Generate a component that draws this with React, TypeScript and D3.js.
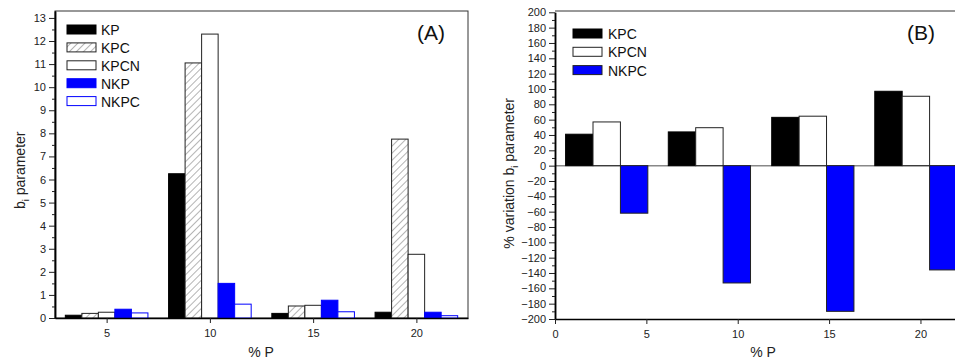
import { useEffect, useRef } from "react"
import * as d3 from "d3"

// Panel A: b_i parameter per % P
const phosphorus = [5, 10, 15, 20]
const seriesA = ["KP", "KPC", "KPCN", "NKP", "NKPC"]
const valuesKP = [0.12, 6.25, 0.2, 0.25]
const valuesKPC = [0.2, 11.05, 0.52, 7.75]
const valuesKPCN = [0.25, 12.3, 0.55, 2.76]
const valuesNKP = [0.38, 1.5, 0.77, 0.25]
const valuesNKPC = [0.22, 0.6, 0.27, 0.1]

// Panel B: % variation of b_i
const seriesB = ["KPC", "KPCN", "NKPC"]
const groupPosB = [2.83, 8.45, 14.11, 19.75]
const variationKPC = [41, 44, 63, 97]
const variationKPCN = [57, 49.5, 64.5, 90.5]
const variationNKPC = [-62, -153, -190, -136]

const xTicksB = [0, 5, 10, 15, 20]

const BLUE = "#0000ff"
const FONT = "Liberation Sans, Arial, sans-serif"

export default function App() {
  const svgRef = useRef<SVGSVGElement>(null)

  useEffect(() => {
    if (!svgRef.current) return
    const svg = d3.select(svgRef.current)
    svg.selectAll("*").remove()

    // hatch pattern for KPC
    const defs = svg.append("defs")
    const pat = defs
      .append("pattern")
      .attr("id", "hatch")
      .attr("patternUnits", "userSpaceOnUse")
      .attr("width", 5)
      .attr("height", 5)
      .attr("patternTransform", "rotate(45)")
    pat.append("rect").attr("width", 5).attr("height", 5).attr("fill", "#fff")
    pat.append("line").attr("x1", 0).attr("y1", 0).attr("x2", 0).attr("y2", 5).attr("stroke", "#444").attr("stroke-width", 0.8)

    const styleA: Record<string, { fill: string; stroke: string }> = {
      KP: { fill: "#000", stroke: "#000" },
      KPC: { fill: "url(#hatch)", stroke: "#222" },
      KPCN: { fill: "#fff", stroke: "#222" },
      NKP: { fill: BLUE, stroke: BLUE },
      NKPC: { fill: "#fff", stroke: BLUE },
    }
    const styleB: Record<string, { fill: string; stroke: string }> = {
      KPC: { fill: "#000", stroke: "#000" },
      KPCN: { fill: "#fff", stroke: "#222" },
      NKPC: { fill: BLUE, stroke: "#222" },
    }

    // ---------- Panel A ----------
    const xA = d3.scaleLinear().domain([2.5, 22.5]).range([55, 468])
    const yA = d3.scaleLinear().domain([0, 13.3]).range([318, 11])
    const gA = svg.append("g")

    gA.append("rect")
      .attr("x", xA(2.5))
      .attr("y", yA(13.3))
      .attr("width", xA(22.5) - xA(2.5))
      .attr("height", yA(0) - yA(13.3))
      .attr("fill", "none")
      .attr("stroke", "#333")
      .attr("stroke-width", 1)

    const dataA = [valuesKP, valuesKPC, valuesKPCN, valuesNKP, valuesNKPC]
    const bwA = 0.8
    seriesA.forEach((s, i) => {
      gA.selectAll(`.barA-${i}`)
        .data(dataA[i])
        .enter()
        .append("rect")
        .attr("x", (_, j) => xA(phosphorus[j] + (i - 2.5) * bwA))
        .attr("width", xA(bwA) - xA(0))
        .attr("y", (d) => yA(d))
        .attr("height", (d) => yA(0) - yA(d))
        .attr("fill", styleA[s].fill)
        .attr("stroke", styleA[s].stroke)
        .attr("stroke-width", 1)
    })

    const axA = gA.append("g").attr("transform", `translate(${xA(2.5)},0)`)
    axA.call(
      d3.axisLeft(yA).tickValues(d3.range(0, 14)).tickSize(6).tickSizeOuter(0).tickFormat(d3.format("d"))
    )
    axA.append("g").call(
      d3.axisLeft(yA).tickValues(d3.range(0.5, 13.3, 1)).tickSize(3).tickSizeOuter(0).tickFormat(() => "")
    )
    const bxA = gA.append("g").attr("transform", `translate(0,${yA(0)})`)
    bxA.call(d3.axisBottom(xA).tickValues(phosphorus).tickSize(5).tickSizeOuter(0).tickPadding(6))

    gA.append("text")
      .attr("transform", `translate(25,${yA(6.4)}) rotate(-90)`)
      .attr("text-anchor", "middle")
      .attr("font-size", 14)
      .attr("font-family", FONT)
      .attr("fill", "#222")
      .call((t) => {
        t.append("tspan").text("b")
        t.append("tspan").attr("font-size", 9).attr("dy", 4).text("i")
        t.append("tspan").attr("dy", -4).text(" parameter")
      })

    gA.append("text")
      .attr("x", 261)
      .attr("y", 357)
      .attr("text-anchor", "middle")
      .attr("font-size", 14)
      .attr("font-family", FONT)
      .attr("fill", "#222")
      .text("% P")

    gA.append("text")
      .attr("x", 431)
      .attr("y", 40)
      .attr("text-anchor", "middle")
      .attr("font-size", 21)
      .attr("font-family", FONT)
      .attr("fill", "#111")
      .text("(A)")

    const legA = gA.append("g").attr("transform", "translate(67,25)")
    seriesA.forEach((s, i) => {
      legA.append("rect")
        .attr("x", 0)
        .attr("y", i * 17.9)
        .attr("width", 29)
        .attr("height", 9)
        .attr("fill", styleA[s].fill)
        .attr("stroke", styleA[s].stroke)
      legA.append("text")
        .attr("x", 34)
        .attr("y", i * 17.9 + 10)
        .attr("font-size", 14)
        .attr("font-family", FONT)
        .attr("fill", "#111")
        .text(s)
    })

    // ---------- Panel B ----------
    const xB = d3.scaleLinear().domain([0, 22]).range([555, 957])
    const yB = d3.scaleLinear().domain([-200, 200]).range([319, 12.3])
    const gB = svg.append("g")

    gB.append("line")
      .attr("x1", xB(0))
      .attr("x2", 960)
      .attr("y1", 11)
      .attr("y2", 11)
      .attr("stroke", "#333")

    gB.append("line")
      .attr("x1", xB(0))
      .attr("x2", 960)
      .attr("y1", yB(0))
      .attr("y2", yB(0))
      .attr("stroke", "#888")
      .attr("stroke-width", 1.5)

    const dataB = [variationKPC, variationKPCN, variationNKPC]
    const bwB = 1.5
    seriesB.forEach((s, i) => {
      gB.selectAll(`.barB-${i}`)
        .data(dataB[i])
        .enter()
        .append("rect")
        .attr("x", (_, j) => xB(groupPosB[j] + (i - 1.5) * bwB))
        .attr("width", xB(bwB) - xB(0))
        .attr("y", (d) => yB(Math.max(0, d)))
        .attr("height", (d) => Math.abs(yB(d) - yB(0)))
        .attr("fill", styleB[s].fill)
        .attr("stroke", styleB[s].stroke)
        .attr("stroke-width", 1)
    })

    const axB = gB.append("g").attr("transform", `translate(${xB(0)},0)`)
    axB.call(
      d3.axisLeft(yB).tickValues(d3.range(-200, 201, 20)).tickSize(6).tickSizeOuter(0).tickFormat(d3.format("d"))
    )
    axB.append("g").call(
      d3.axisLeft(yB).tickValues(d3.range(-190, 200, 20)).tickSize(3).tickSizeOuter(0).tickFormat(() => "")
    )
    const bxB = gB.append("g").attr("transform", `translate(0,${yB(-200)})`)
    bxB.call(d3.axisBottom(xB).tickValues(xTicksB).tickSize(5).tickSizeOuter(0).tickPadding(6))

    gB.append("text")
      .attr("transform", `translate(514,${yB(-10)}) rotate(-90)`)
      .attr("text-anchor", "middle")
      .attr("font-size", 14)
      .attr("font-family", FONT)
      .attr("fill", "#222")
      .call((t) => {
        t.append("tspan").text("% variation b")
        t.append("tspan").attr("font-size", 9).attr("dy", 4).text("i")
        t.append("tspan").attr("dy", -4).text(" parameter")
      })

    gB.append("text")
      .attr("x", 763)
      .attr("y", 357)
      .attr("text-anchor", "middle")
      .attr("font-size", 14)
      .attr("font-family", FONT)
      .attr("fill", "#222")
      .text("% P")

    gB.append("text")
      .attr("x", 921)
      .attr("y", 40)
      .attr("text-anchor", "middle")
      .attr("font-size", 21)
      .attr("font-family", FONT)
      .attr("fill", "#111")
      .text("(B)")

    const legB = gB.append("g").attr("transform", "translate(573,29)")
    seriesB.forEach((s, i) => {
      legB.append("rect")
        .attr("x", 0)
        .attr("y", i * 18.3)
        .attr("width", 29)
        .attr("height", 9)
        .attr("fill", styleB[s].fill)
        .attr("stroke", styleB[s].stroke)
      legB.append("text")
        .attr("x", 35)
        .attr("y", i * 18.3 + 10)
        .attr("font-size", 14)
        .attr("font-family", FONT)
        .attr("fill", "#111")
        .text(s)
    })

    // axis styling
    svg.selectAll(".tick text").attr("font-size", 11).attr("font-family", FONT).attr("fill", "#222")
    svg.selectAll(".domain").attr("stroke", "#000").attr("stroke-width", 1.5)
    svg.selectAll(".tick line").attr("stroke", "#222")
  }, [])

  return (
    <svg
      ref={svgRef}
      width={955}
      height={360}
      style={{ position: "absolute", left: 0, top: 0, background: "#fff", overflow: "hidden" }}
    />
  )
}
